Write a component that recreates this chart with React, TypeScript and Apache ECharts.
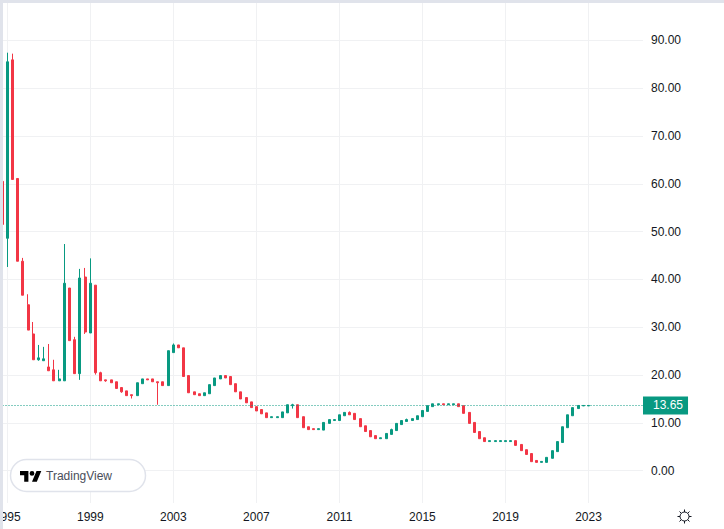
import React, { useEffect, useRef } from "react";
import * as echarts from "echarts";

const tickLabels = ["1995", "1999", "2003", "2007", "2011", "2015", "2019", "2023"];
const priceTicks = [0, 10, 20, 30, 40, 50, 60, 70, 80, 90];
const lastPrice = 13.65;

const opens = [
  60.5, 48.6, 85.9, 61.1, 43.8, 34.7, 28.6, 23.2, 23.0, 21.7,
  21.1, 18.8, 18.8, 38.2, 27.4, 20.3, 40.5, 28.8, 38.8, 20.5,
  19, 19, 18.6, 17.4, 16.7, 15.9, 15.7, 18.2, 19.2, 19.2,
  18.6, 18.6, 17.8, 24.7, 26.3, 25.7, 19.9, 16.5, 16.1, 15.7,
  16.1, 17.8, 19.2, 19.9, 19.7, 18.2, 16.5, 15.3, 14.4, 13.4,
  12.8, 12.1, 11.1, 11.1, 11.1, 12.1, 13.6, 13.8, 11.3, 9.2,
  8.8, 8.6, 8.5, 9.9, 10.5, 10.5, 11.5, 12.2, 12, 10.9,
  9.4, 8.4, 7.35, 6.7, 6.7, 7.6, 8.4, 9.65, 10.3, 10.5,
  10.7, 11.3, 12.4, 13.4, 13.8, 14, 13.8, 13.8, 14, 13.6,
  12.2, 10.1, 8.2, 6.9, 6.1, 6.1, 6.1, 6.1, 6.1, 6.3,
  5.5, 4.4, 3.6, 2.15, 1.75, 1.75, 2.6, 4, 5.9, 9,
  11.5, 13, 13.55, 13.55,
];
const closes = [
  51.5, 85.5, 60.9, 43.8, 36.7, 29.4, 23.2, 23.6, 23.4, 20.9,
  18.8, 19.2, 39.2, 27.2, 20.3, 40.3, 29, 39.2, 20.5, 18.8,
  18.8, 18.4, 17.2, 16.5, 15.7, 15.7, 18.4, 19.2, 19.0, 18.6,
  18.4, 17.8, 25.1, 26.3, 25.7, 19.7, 16.3, 15.9, 15.7, 16.3,
  18, 19.4, 19.9, 19.4, 18, 16.5, 15, 14.2, 13.2, 12.5,
  11.9, 11.1, 11.3, 11.3, 12.3, 13.8, 13.8, 11.1, 9, 8.6,
  8.6, 8.8, 10.1, 10.7, 10.7, 11.7, 12.2, 11.7, 10.7, 9.2,
  8.2, 7.1, 6.7, 6.9, 7.8, 8.6, 9.9, 10.5, 10.7, 10.9,
  11.5, 12.6, 13.6, 14, 14, 13.8, 14, 14, 13.4, 12,
  9.9, 8, 6.7, 6.1, 6.3, 6.3, 6.3, 6.3, 6.3, 5.3,
  4.2, 3.4, 1.9, 1.75, 1.95, 2.8, 4.2, 6.1, 9.2, 11.7,
  13.2, 13.65, 13.65, 13.65,
];
const lows = [
  51.5, 42.6, 60.9, 43.8, 36.7, 29.4, 23.2, 23.0, 23.0, 20.9,
  18.8, 18.8, 18.8, 27.2, 20.3, 19, 28.6, 28.8, 20.1, 18.8,
  18.6, 18.4, 17.2, 16.3, 15.7, 15.1, 15.7, 18.2, 19.0, 18.6,
  13.8, 17.8, 17.8, 24.7, 25.7, 19.7, 16.3, 15.9, 15.7, 15.7,
  16.1, 17.8, 19.2, 19.4, 18, 16.5, 15, 14.2, 13.2, 12.5,
  11.9, 11.1, 11.1, 11.1, 11.1, 12.1, 13, 11.1, 9, 8.6,
  8.6, 8.6, 8.5, 9.9, 10.5, 10.5, 11.5, 11.7, 10.7, 9.2,
  8.2, 7.1, 6.7, 6.7, 6.7, 7.6, 8.4, 9.65, 10.3, 10.5,
  10.7, 11.3, 12.4, 13.4, 13.8, 13.8, 13.8, 13.8, 13.4, 12,
  9.9, 8, 6.7, 6.1, 6.1, 6.1, 6.1, 6.1, 6.1, 5.3,
  4.2, 3.4, 1.9, 1.75, 1.75, 1.75, 2.6, 4, 5.9, 9,
  11.5, 13, 13.55, 13.55,
];
const highs = [
  60.5, 87.4, 87.2, 61.1, 44.5, 36.9, 31.1, 26.3, 25.9, 26.5,
  23.2, 21.1, 47.4, 38.2, 28, 42.2, 42.4, 44.4, 38.8, 20.7,
  19, 19, 18.6, 17.4, 16.7, 15.9, 18.4, 19.2, 19.2, 19.2,
  18.6, 18.6, 25.1, 26.6, 26.3, 25.7, 19.9, 16.5, 16.1, 16.3,
  18, 19.4, 19.9, 19.9, 19.7, 18.2, 16.5, 15.3, 14.4, 13.4,
  12.8, 12.1, 11.3, 11.3, 12.3, 13.8, 14, 13.8, 11.3, 9.2,
  8.8, 8.8, 10.1, 10.7, 10.7, 11.7, 12.2, 12.4, 12, 10.9,
  9.4, 8.4, 7.35, 6.9, 7.8, 8.8, 9.9, 10.5, 10.9, 10.9,
  11.5, 12.6, 13.6, 14, 14, 14, 14, 14, 14, 13.6,
  12.2, 10.1, 8.2, 6.9, 6.3, 6.3, 6.3, 6.3, 6.3, 6.3,
  5.5, 4.4, 3.6, 2.15, 1.95, 2.8, 4.2, 6.1, 9.2, 11.7,
  13.2, 13.65, 13.65, 13.65,
];

const TOTAL_SLOTS = 124;
const FIRST_TICK_SLOT = 1;
const TICK_EVERY = 16;
const isTickSlot = (i: number) => i >= FIRST_TICK_SLOT && (i - FIRST_TICK_SLOT) % TICK_EVERY === 0;

const slots = Array.from({ length: TOTAL_SLOTS }, (_, i) =>
  isTickSlot(i) ? tickLabels[(i - FIRST_TICK_SLOT) / TICK_EVERY] ?? "" : `q${i}`
);
const candles = opens.map((o, i) => [o, closes[i], lows[i], highs[i]]);

const UP = "#089981";
const DOWN = "#F23645";
const GRID = "#f0f1f3";
const TEXT = "#131722";
const EDGE = "#e0e3eb";
const FONT = "'Liberation Sans', Arial, sans-serif";

echarts.graphic.registerShape(
  "tvLogo",
  echarts.graphic.extendPath(
    "M14 22H7V11H0V4h14v18zM28 22h-8l7.5-18h8L28 22zM20 4a4 4 0 1 1 0 8a4 4 0 1 1 0-8z",
    {}
  ) as any
);
echarts.graphic.registerShape(
  "sunIcon",
  echarts.graphic.extendPath(
    "M7 2.5a4.5 4.5 0 1 1 0 9a4.5 4.5 0 1 1 0-9zM7 0v2.5M7 11.5V14M0 7h2.5M11.5 7H14M2 2l1.8 1.8M10.2 10.2L12 12M2 12l1.8-1.8M10.2 3.8L12 2",
    {}
  ) as any
);

export default function App() {
  const ref = useRef<HTMLDivElement>(null);
  useEffect(() => {
    document.body.style.margin = "0";
    document.body.style.background = "#fff";
    const chart = echarts.init(ref.current!, undefined, { renderer: "svg" });
    chart.setOption({
      animation: false,
      backgroundColor: "#ffffff",
      textStyle: { fontFamily: FONT },
      grid: { left: -0.5, top: 3, width: 643.5, height: 500, containLabel: false, outerBoundsMode: "none" },
      xAxis: {
        type: "category",
        data: slots,
        boundaryGap: true,
        axisLine: { show: false },
        axisTick: { show: false },
        axisLabel: {
          interval: (i: number) => isTickSlot(i),
          color: TEXT,
          fontSize: 12,
          fontFamily: FONT,
          margin: 8,
        },
        splitLine: {
          show: true,
          alignWithLabel: true,
          interval: (i: number) => isTickSlot(i),
          lineStyle: { color: GRID, width: 1 },
        },
      },
      yAxis: {
        type: "value",
        position: "right",
        min: -6.743,
        max: 97.79,
        axisLine: { show: false },
        axisTick: { show: false, customValues: priceTicks },
        axisLabel: {
          customValues: priceTicks,
          formatter: (v: number) => v.toFixed(2),
          color: TEXT,
          fontSize: 12,
          fontFamily: FONT,
          margin: 8,
        },
        splitLine: { show: true, lineStyle: { color: GRID, width: 1 } },
      },
      series: [
        {
          type: "candlestick",
          data: candles,
          barWidth: 2.5,
          itemStyle: {
            color: UP,
            color0: DOWN,
            borderColor: UP,
            borderColor0: DOWN,
            borderWidth: 1,
          },
          markLine: {
            silent: true,
            symbol: "none",
            animation: false,
            lineStyle: { color: UP, type: [1, 2], width: 1 },
            label: {
              show: true,
              position: "end",
              distance: 0,
              formatter: () => lastPrice.toFixed(2),
              color: "#ffffff",
              fontSize: 12,
              fontFamily: FONT,
              backgroundColor: UP,
              padding: [3, 5, 3, 10],
            },
            data: [{ yAxis: lastPrice }],
          },
        },
      ],
      graphic: [
        { type: "rect", silent: true, z: 100, shape: { x: 0, y: 0, width: 724, height: 3 }, style: { fill: EDGE } },
        { type: "rect", silent: true, z: 100, shape: { x: 0, y: 0, width: 3, height: 529 }, style: { fill: EDGE } },
        {
          type: "rect",
          silent: true,
          z: 90,
          shape: { x: 10.5, y: 459.5, width: 135, height: 32, r: 16 },
          style: { fill: "#ffffff", stroke: EDGE, lineWidth: 1.5 },
        },
        { type: "tvLogo", silent: true, z: 91, x: 20, y: 468.6, scaleX: 0.6, scaleY: 0.6, style: { fill: "#000000" } },
        {
          type: "text",
          silent: true,
          z: 91,
          x: 46,
          y: 476,
          style: { text: "TradingView", fill: "#4a4e5a", fontSize: 12, fontFamily: FONT, verticalAlign: "middle", align: "left" },
        },
        {
          type: "sunIcon",
          silent: true,
          z: 91,
          x: 677.5,
          y: 509.5,
          style: { fill: "none", stroke: TEXT, lineWidth: 1 },
        },
      ],
    });
    return () => chart.dispose();
  }, []);
  return <div ref={ref} style={{ position: "absolute", left: 0, top: 0, width: 724, height: 529 }} />;
}
